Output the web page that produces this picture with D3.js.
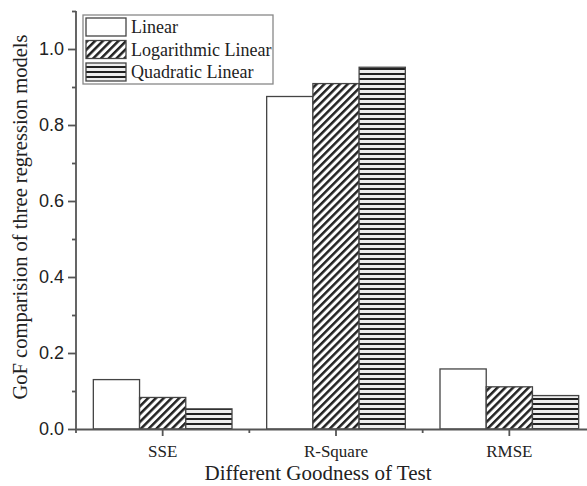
<!DOCTYPE html>
<html>
<head>
<meta charset="utf-8">
<script src="https://cdn.jsdelivr.net/npm/d3@7"></script>
<style>
  body { margin: 0; background: #fff; }
  text { fill: #222; }
</style>
</head>
<body>
<div id="container"></div>
<script>
/* DATA */
const categories = ["SSE", "R-Square", "RMSE"];
const seriesNames = ["Linear", "Logarithmic Linear", "Quadratic Linear"];
const linear = [0.130, 0.875, 0.158];
const logLinear = [0.083, 0.909, 0.111];
const quadLinear = [0.053, 0.952, 0.088];
const yTicks = [0.0, 0.2, 0.4, 0.6, 0.8, 1.0];
const yMinorTicks = [0.1, 0.3, 0.5, 0.7, 0.9, 1.1];

/* CONSTANTS */
const width = 587;
const height = 486;
const plotLeft = 76, plotRight = 596, plotTop = 11, plotBottom = 429;
const axisColor = "#555";
const barStroke = "#444";
const fills = ["#fff", "url(#diag)", "url(#horiz)"];

const data = categories.map((c, i) => ({
  cat: c,
  vals: [linear[i], logLinear[i], quadLinear[i]]
}));

/* SCALES */
const xScale = d3.scaleBand()
  .domain(categories)
  .range([plotLeft, plotRight])
  .paddingInner(0.2)
  .paddingOuter(0.1);

const xSub = d3.scaleBand()
  .domain(d3.range(seriesNames.length))
  .range([0, xScale.bandwidth()]);

const yScale = d3.scaleLinear()
  .domain([0, 1.1])
  .range([plotBottom, plotBottom - 1.1 * 380]);

/* SVG */
const svg = d3.select("#container")
  .append("svg")
  .attr("width", width)
  .attr("height", height);

const defs = svg.append("defs");
const diag = defs.append("pattern")
  .attr("id", "diag")
  .attr("patternUnits", "userSpaceOnUse")
  .attr("width", 5.5).attr("height", 5.5)
  .attr("patternTransform", "rotate(45)");
diag.append("rect").attr("width", 5.5).attr("height", 5.5).attr("fill", "#fff");
diag.append("rect").attr("width", 2.5).attr("height", 5.5).attr("fill", "#222");

const horiz = defs.append("pattern")
  .attr("id", "horiz")
  .attr("patternUnits", "userSpaceOnUse")
  .attr("width", 10).attr("height", 5);
horiz.append("rect").attr("width", 10).attr("height", 5).attr("fill", "#eee");
horiz.append("rect").attr("y", 3).attr("width", 10).attr("height", 2.2).attr("fill", "#222");

// Bars
const groups = svg.selectAll(".group")
  .data(data)
  .join("g")
  .attr("class", "group")
  .attr("transform", d => `translate(${xScale(d.cat)},0)`);

groups.selectAll("rect")
  .data(d => d.vals)
  .join("rect")
  .attr("x", (d, i) => xSub(i))
  .attr("y", d => yScale(d))
  .attr("width", xSub.bandwidth())
  .attr("height", d => yScale(0) - yScale(d))
  .attr("fill", (d, i) => fills[i])
  .attr("stroke", barStroke)
  .attr("stroke-width", 1.3);

// Y axis
const yAxis = svg.append("g")
  .attr("transform", `translate(${plotLeft},0)`)
  .call(d3.axisLeft(yScale).tickValues(yTicks).tickFormat(d3.format(".1f")).tickSize(8).tickPadding(4));
yAxis.select(".domain").remove();
yAxis.selectAll("line").attr("stroke", axisColor).attr("stroke-width", 1.8);
yAxis.selectAll("text")
  .style("font-family", "Liberation Sans, Arial, sans-serif")
  .style("font-size", "18px");

svg.append("g")
  .attr("transform", `translate(${plotLeft},0)`)
  .call(d3.axisLeft(yScale).tickValues(yMinorTicks).tickFormat("").tickSize(4))
  .call(g => g.select(".domain").remove())
  .selectAll("line").attr("stroke", axisColor).attr("stroke-width", 1.8);

svg.append("line")
  .attr("x1", plotLeft).attr("x2", plotLeft)
  .attr("y1", yScale(1.1)).attr("y2", yScale(0))
  .attr("stroke", axisColor).attr("stroke-width", 1.8);

// X axis
const xAxis = svg.append("g")
  .attr("transform", `translate(0,${plotBottom})`)
  .call(d3.axisBottom(xScale).tickSize(7).tickPadding(9).tickSizeOuter(0));
xAxis.select(".domain").attr("stroke", axisColor).attr("stroke-width", 1.8);
xAxis.selectAll("line").attr("stroke", axisColor).attr("stroke-width", 1.8);
xAxis.selectAll("text")
  .style("font-family", "Liberation Serif, Times New Roman, serif")
  .style("font-size", "17px");

// minor x ticks between categories
const xMinor = d3.range(categories.length + 1).map(i => plotLeft + xScale.step() * i);
svg.selectAll(".xminor")
  .data(xMinor)
  .join("line")
  .attr("class", "xminor")
  .attr("x1", d => d).attr("x2", d => d)
  .attr("y1", plotBottom).attr("y2", plotBottom + 4)
  .attr("stroke", axisColor).attr("stroke-width", 1.8);

// Axis titles
svg.append("text")
  .attr("x", 318)
  .attr("y", 480)
  .attr("text-anchor", "middle")
  .style("font-family", "Liberation Serif, Times New Roman, serif")
  .style("font-size", "21px")
  .text("Different Goodness of Test");

svg.append("text")
  .attr("transform", `translate(27,217) rotate(-90)`)
  .attr("text-anchor", "middle")
  .style("font-family", "Liberation Serif, Times New Roman, serif")
  .style("font-size", "20.5px")
  .text("GoF comparision of three regression models");

// Legend
const legend = svg.append("g").attr("transform", "translate(83,15)");
legend.append("rect")
  .attr("width", 190).attr("height", 69)
  .attr("fill", "#fff")
  .attr("stroke", "#888").attr("stroke-width", 1.3);

const items = legend.selectAll(".item")
  .data(seriesNames)
  .join("g")
  .attr("class", "item")
  .attr("transform", (d, i) => `translate(3,${3 + i * 22.5})`);

items.append("rect")
  .attr("width", 40).attr("height", 18)
  .attr("fill", (d, i) => fills[i])
  .attr("stroke", barStroke).attr("stroke-width", 1.3);

items.append("text")
  .attr("x", 45)
  .attr("y", 15)
  .style("font-family", "Liberation Serif, Times New Roman, serif")
  .style("font-size", "18px")
  .text(d => d);
</script>
</body>
</html>
